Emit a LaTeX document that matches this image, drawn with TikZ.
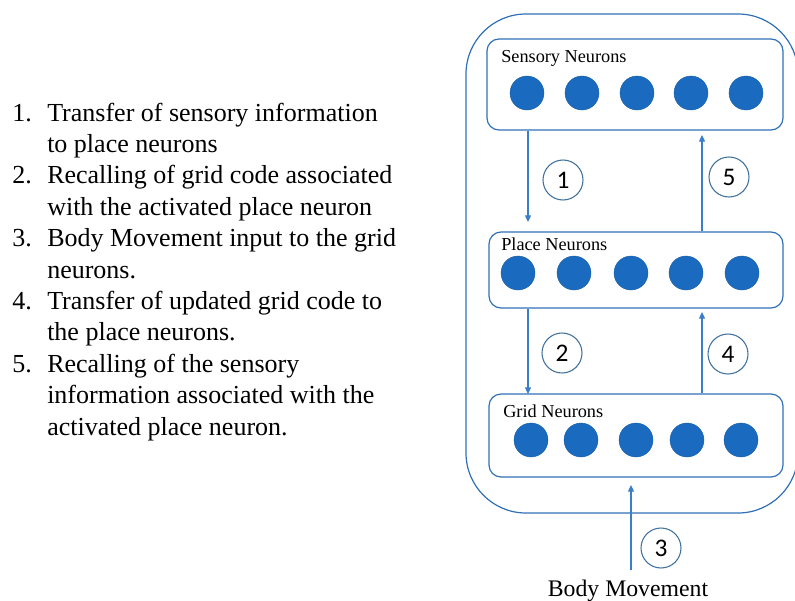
\documentclass[tikz,border=0pt]{standalone}
\usepackage{fontspec}
\setmainfont{Liberation Serif}
\newfontfamily\digitfont{Carlito}
\usetikzlibrary{arrows.meta}
\definecolor{boxblue}{HTML}{2F70B6}
\definecolor{arrowblue}{HTML}{3A7DC9}
\definecolor{cellblue}{HTML}{1A6BC0}
\definecolor{tagblue}{HTML}{41719C}
\tikzset{
  layer/.style={draw=boxblue, line width=0.9pt, rounded corners=9pt, inner sep=0pt},
  cell/.style={circle, fill=cellblue, draw=cellblue!85!black, line width=0.3pt,
               minimum size=25.5pt, inner sep=0pt},
  layername/.style={anchor=base west, inner sep=0pt, font=\fontsize{13.7}{16}\selectfont},
  flow/.style={draw=arrowblue, line width=0.9pt,
               -{Triangle[length=5pt,width=4.5pt]}},
  tag/.style={circle, draw=tagblue, line width=0.8pt, minimum size=30pt, inner sep=0pt,
              font=\digitfont\fontsize{19}{22}\selectfont},
  item/.style={anchor=base west, inner sep=0pt, font=\fontsize{19.5}{23.6}\selectfont},
}
\begin{document}
\begin{tikzpicture}[x=0.75pt, y=-0.75pt]
  \useasboundingbox (0,0) rectangle (795,600);

  % numbered explanation list
  \foreach \t [count=\i] in {
      Transfer of sensory information,
      to place neurons,
      Recalling of grid code associated,
      with the activated place neuron,
      Body Movement input to the grid,
      neurons.,
      Transfer of updated grid code to,
      the place neurons.,
      Recalling of the sensory,
      information associated with the,
      activated place neuron.}
    \node[item] (line\i) at (47, {121+(\i-1)*31.4}) {\t};
  \foreach \n/\l in {1/1, 2/3, 3/5, 4/7, 5/9}
    \node[item] (num\n) at (12, {121+(\l-1)*31.4}) {\n.};

  % enclosing frame
  \draw[boxblue, line width=0.9pt, rounded corners=45pt] (466,14) rectangle (798,513);

  % the three neuron layers
  \node[layer, minimum width=222pt, minimum height=68.25pt] (sens) at (635,84.5) {};
  \node[layer, minimum width=220.5pt, minimum height=57pt] (place) at (636,270) {};
  \node[layer, minimum width=220.5pt, minimum height=62.25pt] (grid) at (636,435.5) {};

  \node[layername] (sensname) at (501,62) {Sensory Neurons};
  \node[layername] (placename) at (501,250) {Place Neurons};
  \node[layername] (gridname) at (503,417) {Grid Neurons};

  \foreach \x [count=\i] in {527,582,637,691,746}
    \node[cell] (s\i) at (\x,93) {};
  \foreach \x [count=\i] in {518,574,631,686,742}
    \node[cell] (p\i) at (\x,273) {};
  \foreach \x [count=\i] in {531,581,636,687,741}
    \node[cell] (g\i) at (\x,440) {};

  % arrow end points
  \coordinate (e1) at (528,222);
  \coordinate (e5) at (702,135);
  \coordinate (e2) at (528,394);
  \coordinate (e4) at (702,312);
  \coordinate (e3) at (631,485);
  \coordinate (b3) at (631,570);

  \draw[flow] (sens.south -| e1) -- (e1);
  \draw[flow] (place.north -| e5) -- (e5);
  \draw[flow] (place.south -| e2) -- (e2);
  \draw[flow] (grid.north -| e4) -- (e4);
  \draw[flow] (b3) -- (e3);

  % step numbers
  \node[tag] (t1) at (563,180) {1};
  \node[tag] (t5) at (729,177) {5};
  \node[tag] (t2) at (562,353) {2};
  \node[tag] (t4) at (728,354) {4};
  \node[tag] (t3) at (661,548) {3};

  \node[anchor=base, inner sep=0pt, font=\fontsize{17.8}{21}\selectfont] (body) at (628,596) {Body Movement};
\end{tikzpicture}
\end{document}
